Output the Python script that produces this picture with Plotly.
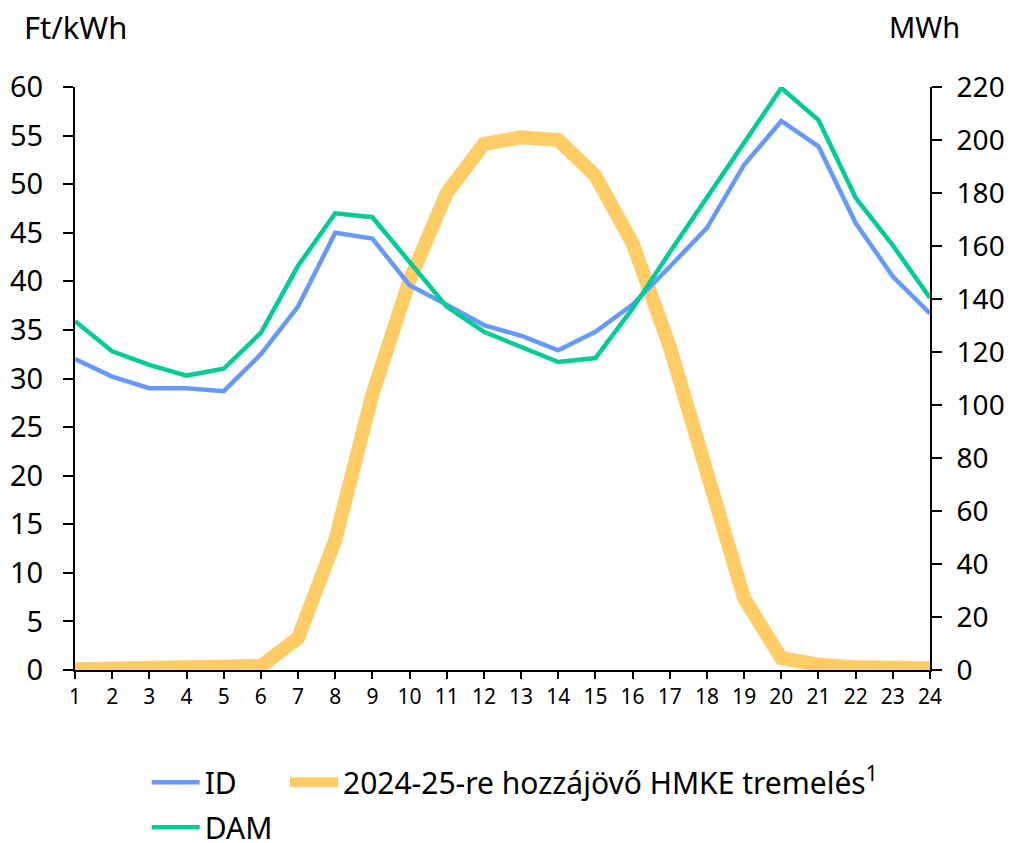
import plotly.graph_objects as go

hours = list(range(1, 25))
tick_labels = [str(h) for h in hours]

id_price = [32.0, 30.2, 29.0, 29.0, 28.7, 32.5, 37.4, 45.0, 44.4, 39.6, 37.6, 35.5,
            34.4, 32.9, 34.8, 37.6, 41.5, 45.5, 52.0, 56.5, 53.9, 46.0, 40.5, 36.7]
dam_price = [35.9, 32.8, 31.4, 30.3, 31.0, 34.7, 41.6, 47.0, 46.6, 42.0, 37.4, 34.8,
             33.2, 31.7, 32.1, 37.2, 43.0, 48.7, 54.3, 59.9, 56.6, 48.6, 43.7, 38.3]
hmke_mwh = [0.3, 0.3, 0.3, 0.3, 0.7, 1.5, 12.0, 49.0, 104.0, 147.0, 180.0, 198.5,
            201.0, 200.0, 186.5, 161.0, 122.0, 76.0, 27.0, 4.5, 2.0, 1.0, 0.7, 0.7]

FONT = "Noto Sans"
BLUE = "#6699FF"
GREEN = "#00CC96"
YELLOW = "#FFCC66"

fig = go.Figure()
fig.add_trace(go.Scatter(x=hours, y=hmke_mwh, mode="lines", yaxis="y",
                         name="2024-25-re hozzájövő HMKE tremelés<sup>1</sup>",
                         line=dict(color=YELLOW, width=14), legend="legend3", showlegend=True))
fig.add_trace(go.Scatter(x=hours, y=id_price, mode="lines", yaxis="y2",
                         name="ID", line=dict(color=BLUE, width=4.5), legend="legend", showlegend=True))
fig.add_trace(go.Scatter(x=hours, y=dam_price, mode="lines", yaxis="y2",
                         name="DAM", line=dict(color=GREEN, width=4.5), legend="legend2", showlegend=True))

axis_common = dict(showgrid=False, zeroline=False, showline=True, linecolor="black",
                   linewidth=2, ticks="outside", tickcolor="black", tickwidth=2,
                   automargin=False)

legend_common = dict(orientation="h", xanchor="left", yanchor="top",
                     xref="container", yref="container", font=dict(size=30),
                     bgcolor="rgba(0,0,0,0)", itemwidth=48, visible=True)

fig.update_layout(
    width=1005, height=835,
    showlegend=True,
    margin=dict(l=67, r=83, t=79, b=173),
    paper_bgcolor="white", plot_bgcolor="white",
    font=dict(family=FONT, color="black", size=29),
    xaxis=dict(range=[1, 24], tickmode="array", tickvals=hours, ticktext=tick_labels,
               ticklen=7, tickfont=dict(size=21), **axis_common),
    yaxis=dict(side="right", range=[0, 220], dtick=20, ticklen=10, ticklabelstandoff=9,
               tickfont=dict(size=28), **axis_common),
    yaxis2=dict(side="left", overlaying="y", range=[0, 60], dtick=5, ticklen=10,
                ticklabelstandoff=14, tickfont=dict(size=29), **axis_common),
    legend=dict(x=0.138, y=0.104, **legend_common),
    legend3=dict(x=0.2756, y=0.104, **legend_common),
    legend2=dict(x=0.138, y=0.050, **legend_common),
    annotations=[
        dict(text="Ft/kWh", xref="paper", yref="paper", x=-0.062, y=1.103,
             xanchor="left", yanchor="middle", showarrow=False, font=dict(size=31)),
        dict(text="MWh", xref="paper", yref="paper", x=1.0374, y=1.103,
             xanchor="right", yanchor="middle", showarrow=False, font=dict(size=29)),
    ],
)

fig.write_html("out.html")
